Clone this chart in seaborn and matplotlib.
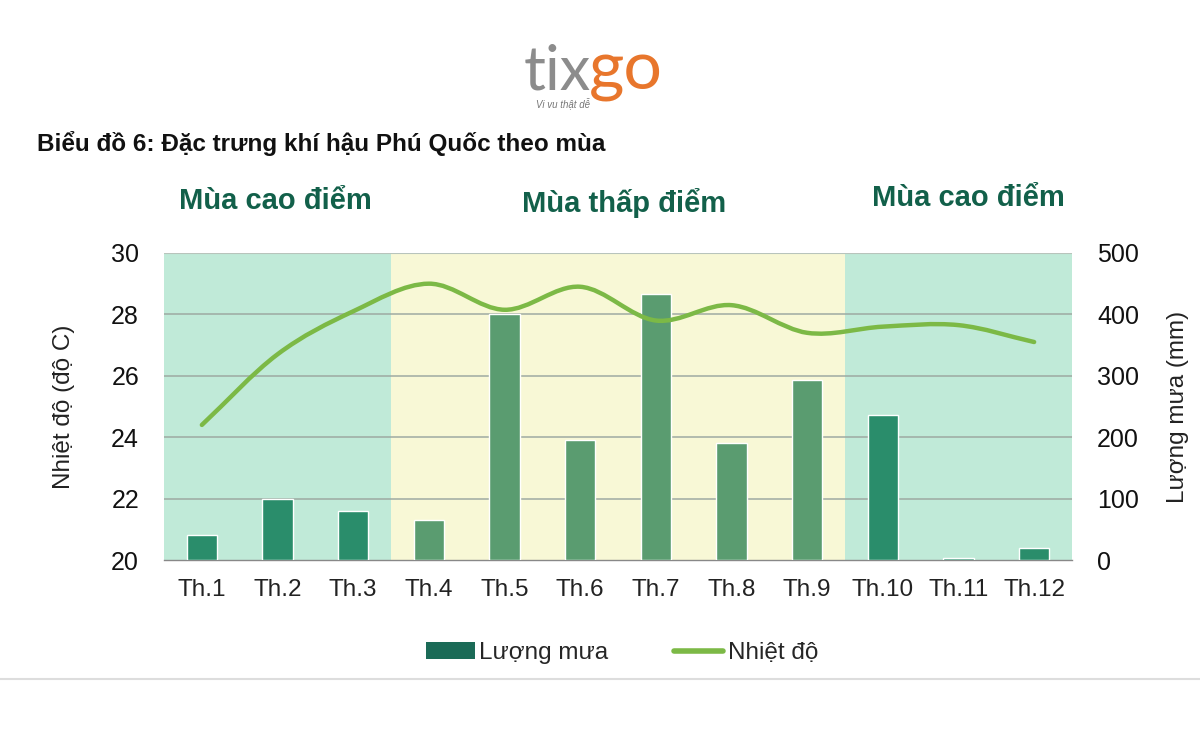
import numpy as np
import pandas as pd
import matplotlib
matplotlib.use("Agg")
import matplotlib.pyplot as plt
from matplotlib.path import Path
from matplotlib.patches import PathPatch, Patch
from matplotlib.lines import Line2D
import seaborn as sns

months = ["Th.1", "Th.2", "Th.3", "Th.4", "Th.5", "Th.6", "Th.7", "Th.8", "Th.9", "Th.10", "Th.11", "Th.12"]
rain_mm = [40, 100, 80, 65, 400, 195, 433, 190, 293, 236, 3, 20]
temp_c = [24.4, 26.7, 28.1, 29.0, 28.15, 28.9, 27.8, 28.3, 27.4, 27.6, 27.65, 27.1]
season = ["cao", "cao", "cao", "thap", "thap", "thap", "thap", "thap", "thap", "cao", "cao", "cao"]
season_labels = ["Mùa cao điểm", "Mùa thấp điểm", "Mùa cao điểm"]

sns.set_theme(style="white")
plt.rcParams["font.family"] = ["Liberation Sans", "DejaVu Sans"]

df = pd.DataFrame({"month": months, "rain": rain_mm, "temp": temp_c, "season": season})

fig = plt.figure(figsize=(12, 7.5), dpi=100)
ax = fig.add_axes([0.1367, 0.2533, 0.7566, 0.4094])
ax2 = ax.twinx()

# season shading
HIGH_BG = "#c0ead8"
LOW_BG = "#f8f8d6"
ax.axvspan(-0.5, 2.5, color=HIGH_BG, zorder=0, lw=0)
ax.axvspan(2.5, 8.5, color=LOW_BG, zorder=0, lw=0)
ax.axvspan(8.5, 11.5, color=HIGH_BG, zorder=0, lw=0)

sns.barplot(data=df, x="month", y="rain", hue="season", order=months,
            palette={"cao": "#2a8d6b", "thap": "#5a9c70"}, dodge=False,
            width=0.4, legend=False, ax=ax, zorder=3, saturation=1)
ax.set_xlim(-0.5, 11.5)
ax.set_ylim(0, 500)
ax.set_yticks(range(0, 501, 100))
ax.yaxis.tick_right()
ax.yaxis.set_label_position("right")
ax.set_ylabel("Lượng mưa (mm)", fontsize=17.5, color="#222222")
ax.yaxis.set_label_coords(1.1046, 0.5)
ax.set_xlabel("")
for yv in [100, 200, 300, 400]:
    ax.axhline(yv, color="#9eaaa2", lw=1.1, zorder=1)
ax.axhline(500, color="#b8c4bc", lw=0.8, zorder=1)
for s in ["top", "left", "right"]:
    ax.spines[s].set_visible(False)
ax.spines["bottom"].set_color("#888888")
ax.spines["bottom"].set_linewidth(1.0)
ax.tick_params(axis="y", which="both", left=False, right=True, labelleft=False, labelright=True,
               length=0, labelsize=18, labelcolor="#111111", pad=18)
ax.set_xticks(range(12))
ax.set_xticklabels(months, fontsize=17.5, color="#222222")
ax.tick_params(axis="x", length=0, pad=14)
ax.set_xticks(np.arange(0.5, 11, 1), minor=True)
ax.tick_params(axis="x", which="minor", length=7, color="#888888", width=1, direction="out")

# temperature axis
ax2.set_ylim(20, 30)
ax2.set_yticks(range(20, 31, 2))
ax2.yaxis.tick_left()
ax2.yaxis.set_label_position("left")
ax2.set_ylabel("Nhiệt độ (độ C)", fontsize=17.5, color="#222222")
ax2.yaxis.set_label_coords(-0.098, 0.5)
ax2.tick_params(axis="y", left=True, right=False, labelleft=True, labelright=False,
                length=0, labelsize=18, labelcolor="#111111", pad=18)
for s in ["top", "left", "right", "bottom"]:
    ax2.spines[s].set_visible(False)
ax2.grid(False)

# smooth temperature curve (Bezier through the data points)
xs = np.arange(len(temp_c), dtype=float)
ys = np.array(temp_c, dtype=float)
n = len(xs)
tx = np.zeros(n); ty = np.zeros(n)
for i in range(n):
    i0 = max(i - 1, 0); i1 = min(i + 1, n - 1)
    tx[i] = (xs[i1] - xs[i0]) / (i1 - i0)
    ty[i] = (ys[i1] - ys[i0]) / (i1 - i0)
verts = [(xs[0], ys[0])]
codes = [Path.MOVETO]
for i in range(n - 1):
    verts += [(xs[i] + tx[i] / 3, ys[i] + ty[i] / 3),
              (xs[i + 1] - tx[i + 1] / 3, ys[i + 1] - ty[i + 1] / 3),
              (xs[i + 1], ys[i + 1])]
    codes += [Path.CURVE4] * 3
ax2.add_patch(PathPatch(Path(verts, codes), facecolor="none", edgecolor="#7cb946",
                        lw=3.2, capstyle="round", zorder=5))

# season labels
fig.text(275 / 1200, 1 - 201 / 750, season_labels[0], fontsize=21, fontweight="bold",
         color="#12604a", ha="center", va="center")
fig.text(624 / 1200, 1 - 203 / 750, season_labels[1], fontsize=21, fontweight="bold",
         color="#12604a", ha="center", va="center")
fig.text(968 / 1200, 1 - 198 / 750, season_labels[2], fontsize=21, fontweight="bold",
         color="#12604a", ha="center", va="center")

# title
fig.text(37 / 1200, 1 - 143 / 750, "Biểu đồ 6: Đặc trưng khí hậu Phú Quốc theo mùa",
         fontsize=17.5, fontweight="bold", color="#111111", ha="left", va="center")

# logo
fig.text(591 / 1200, 1 - 89 / 750, "tix", fontsize=44, color="#8c8c8c", ha="right",
         va="baseline", family=["Lato", "DejaVu Sans"])
fig.text(589 / 1200, 1 - 89 / 750, "go", fontsize=49, color="#e8762c", ha="left",
         va="baseline", family=["Lato", "DejaVu Sans"])
fig.text(590 / 1200, 1 - 104 / 750, "Vi vu thật dễ", fontsize=7, color="#777777",
         ha="right", va="center", style="italic")

# legend
handles = [Patch(facecolor="#1b6b57", edgecolor="none", label="Lượng mưa"),
           Line2D([0], [0], color="#7cb946", lw=4, label="Nhiệt độ")]
fig.legend(handles=handles, loc="center", bbox_to_anchor=(622 / 1200, 1 - 653 / 750),
           ncol=2, frameon=False, fontsize=17.5, handlelength=2.0, handletextpad=0.2,
           columnspacing=2.7, handleheight=0.7)

# bottom border line
fig.add_artist(Line2D([0, 1], [1 - 679 / 750] * 2, color="#dddddd", lw=1.5,
                      transform=fig.transFigure))

fig.savefig("out.png", dpi=100, facecolor="white")
